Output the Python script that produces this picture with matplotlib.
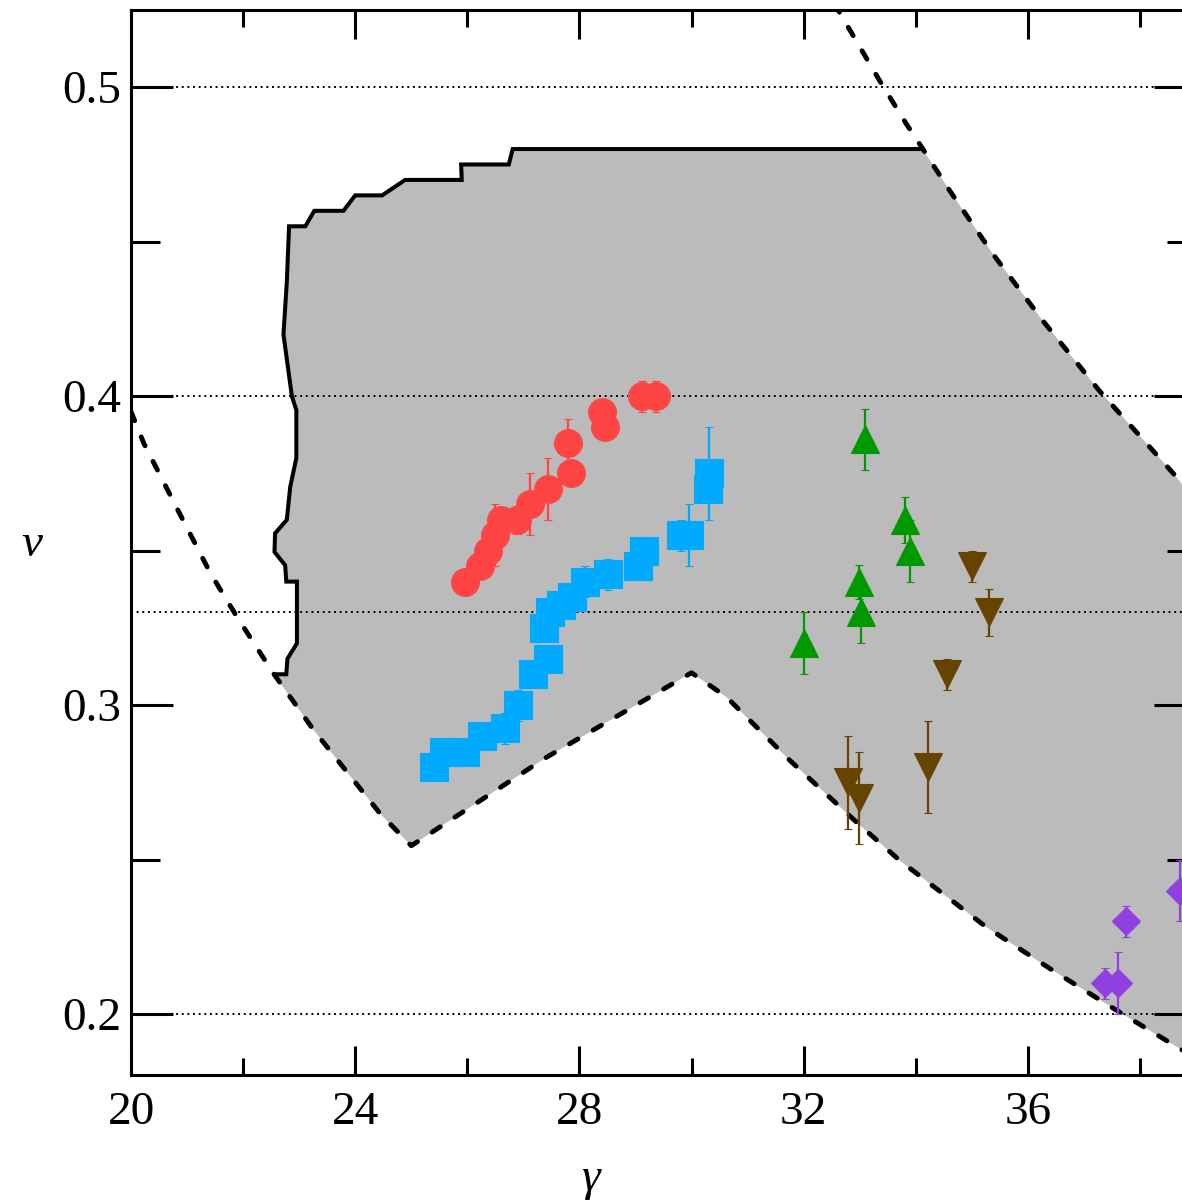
import numpy as np
import matplotlib
matplotlib.use("Agg")
import matplotlib.pyplot as plt

# ---- 데이터 ----
# 왼쪽 실선 경계 (아래 -> 위 -> 오른쪽 평탄부)
edge_g  = [22.57, 22.77, 22.79, 22.96, 22.96, 22.77, 22.75, 22.56, 22.57, 22.78, 22.84,
           22.95, 22.95, 22.87, 22.72, 22.78, 22.82, 23.11, 23.27, 23.79, 24.00, 24.48,
           24.89, 25.90, 25.89, 26.74, 26.81, 34.12]
edge_nu = [0.310, 0.310, 0.315, 0.320, 0.340, 0.340, 0.3453, 0.3496, 0.3556, 0.360, 0.3706,
           0.380, 0.3955, 0.400, 0.420, 0.437, 0.455, 0.455, 0.460, 0.460, 0.465, 0.465,
           0.470, 0.470, 0.475, 0.475, 0.480, 0.480]

# 위쪽 점선
up_g  = [32.55, 33.35, 33.83, 34.12, 34.60, 35.37, 36.26, 37.27, 38.64, 38.75]
up_nu = [0.527, 0.5023, 0.4882, 0.4802, 0.4667, 0.4462, 0.4246, 0.4019, 0.3741, 0.3715]

# 아래쪽 점선 (왼쪽 가지 + V자 + 오른쪽 가지)
low_g  = [20.0, 20.23, 20.82, 21.42, 21.89, 22.54, 23.26, 24.44, 25.0, 27.4, 30.0,
          30.62, 31.75, 32.94, 33.71, 35.25, 36.44, 37.63, 38.75]
low_nu = [0.395, 0.3847, 0.3637, 0.3426, 0.3286, 0.3103, 0.2919, 0.265, 0.2545, 0.283, 0.3105,
          0.3027, 0.2822, 0.2622, 0.2498, 0.2283, 0.2142, 0.2007, 0.1884]

# 수평 점선 기준값
ref_nu = [0.2, 0.33, 0.4, 0.5]

# 빨간 원
red_g   = [25.95, 26.23, 26.37, 26.49, 26.60, 26.88, 27.12, 27.44, 27.80, 27.85, 28.40, 28.45, 29.12, 29.37]
red_nu  = [0.340, 0.345, 0.350, 0.355, 0.360, 0.360, 0.365, 0.370, 0.385, 0.375, 0.395, 0.390, 0.400, 0.400]
red_err = [0.0, 0.0, 0.0, 0.010, 0.0, 0.0045, 0.010, 0.010, 0.0077, 0.0, 0.0, 0.0, 0.005, 0.005]

# 파란 사각형
blue_g   = [25.41, 25.58, 25.96, 26.26, 26.67, 26.90, 27.17, 27.44, 27.37, 27.47, 27.68, 27.86,
            28.10, 28.51, 29.05, 29.15, 29.82, 29.95, 30.29, 30.32]
blue_nu  = [0.280, 0.285, 0.285, 0.290, 0.2925, 0.300, 0.310, 0.315, 0.325, 0.330, 0.3324, 0.335,
            0.340, 0.3424, 0.345, 0.350, 0.355, 0.355, 0.370, 0.375]
blue_err = [0.0, 0.0, 0.0, 0.0, 0.005, 0.005, 0.0, 0.0, 0.0, 0.0, 0.0, 0.0,
            0.005, 0.005, 0.0, 0.0, 0.005, 0.010, 0.0, 0.015]

# 초록 삼각형
green_g   = [32.00, 32.99, 33.02, 33.10, 33.80, 33.90]
green_nu  = [0.320, 0.340, 0.330, 0.386, 0.360, 0.350]
green_err = [0.010, 0.0055, 0.010, 0.010, 0.0075, 0.010]

# 갈색 역삼각형
brown_g   = [32.80, 32.98, 34.22, 34.55, 35.00, 35.30]
brown_nu  = [0.275, 0.270, 0.280, 0.310, 0.345, 0.330]
brown_err = [0.015, 0.015, 0.015, 0.005, 0.005, 0.0075]

# 보라 다이아몬드
purple_g   = [37.38, 37.61, 37.745, 38.72]
purple_nu  = [0.210, 0.210, 0.230, 0.240]
purple_err = [0.005, 0.010, 0.005, 0.010]

# ---- 그림 ----
W, H = 1182, 1201
fig = plt.figure(figsize=(W / 100, H / 100), dpi=100)
ax = fig.add_axes([131 / W, (H - 1075) / H, (1196 - 131) / W, (1075 - 10) / H])
ax.set_xlim(20, 39)
ax.set_ylim(0.1803, 0.525)

# 회색 영역 다각형
eg, en = np.array(edge_g), np.array(edge_nu)
ug, un = np.array(up_g), np.array(up_nu)
lg, ln = np.array(low_g), np.array(low_nu)
mu = ug > 34.12
ml = lg >= 22.54
poly_g = np.concatenate([eg, ug[mu], lg[ml][::-1]])
poly_nu = np.concatenate([en, un[mu], ln[ml][::-1]])
ax.fill(poly_g, poly_nu, color="#BBBBBB", lw=0, zorder=1)

for y in ref_nu:
    ax.axhline(y, color="black", lw=1.4, dashes=(1.0, 1.9), zorder=2)

ax.plot(edge_g, edge_nu, color="black", lw=2.9, solid_joinstyle="miter", zorder=3)
for gx, gy in [(up_g, up_nu), (low_g, low_nu)]:
    ax.plot(gx, gy, color="black", lw=3.5, dashes=(2.0, 3.6),
            dash_capstyle="round", zorder=3)

series = [
    (red_g, red_nu, red_err, "o", "#FF4444", 20),
    (blue_g, blue_nu, blue_err, "s", "#00AAFF", 19.5),
    (green_g, green_nu, green_err, "^", "#009900", 20),
    (brown_g, brown_nu, brown_err, "v", "#664400", 20),
    (purple_g, purple_nu, purple_err, "D", "#9040E0", 14),
]
for gx, gy, ge, mk, col, ms in series:
    ax.errorbar(gx, gy, yerr=ge, fmt=mk, color=col, ms=ms, mew=0.8,
                elinewidth=1.6, capsize=2.6, capthick=1.6, zorder=4)

# ---- 축 ----
ax.set_xticks([20, 24, 28, 32, 36])
ax.set_xticks([22, 26, 30, 34, 38], minor=True)
ax.set_yticks([0.2, 0.3, 0.4, 0.5])
ax.set_yticks([0.25, 0.35, 0.45], minor=True)
ax.set_yticklabels(["0.2", "0.3", "0.4", "0.5"])

tfont = "Liberation Serif"
ax.tick_params(axis="both", which="both", direction="in", top=True, right=True,
               width=2.2, colors="black", zorder=5)
ax.tick_params(axis="y", which="major", length=30, pad=7)
ax.tick_params(axis="y", which="minor", length=21)
ax.tick_params(axis="x", which="major", length=21, pad=12)
ax.tick_params(axis="x", which="minor", length=12)
for lab in ax.get_xticklabels() + ax.get_yticklabels():
    lab.set_fontfamily(tfont)
    lab.set_fontsize(34)
for sp in ax.spines.values():
    sp.set_linewidth(2.2)
    sp.set_zorder(5)

fig.text(590 / W, 1 - 1190 / H, "γ", family=tfont, style="italic", fontsize=34,
         ha="center", va="baseline")
fig.text(32 / W, 1 - 545 / H, "ν", family=tfont, style="italic", fontsize=34,
         ha="center", va="center")

fig.savefig("out.png", dpi=100)
plt.close(fig)
